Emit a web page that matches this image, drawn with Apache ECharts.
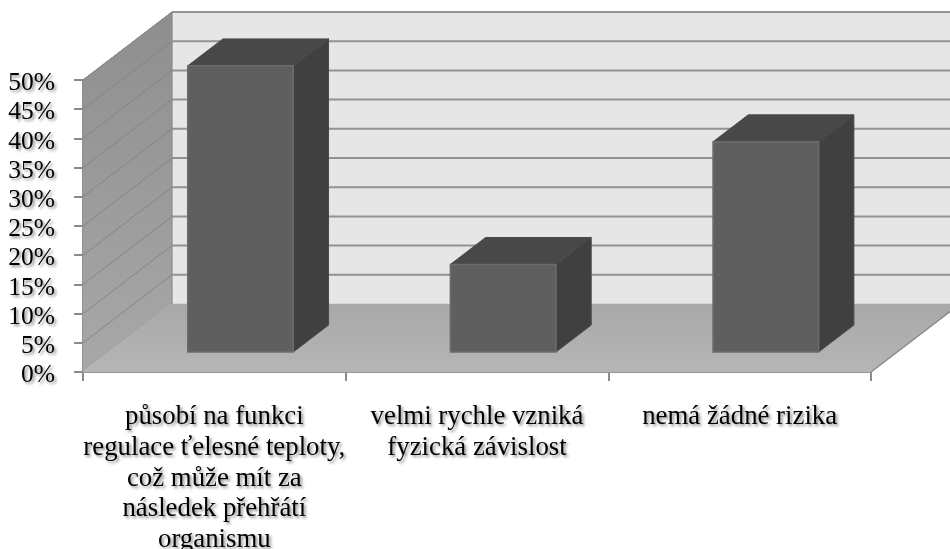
<!DOCTYPE html>
<html>
<head>
<meta charset="utf-8">
<style>html,body{margin:0;padding:0;background:#fff}#c{width:950px;height:549px}</style>
<script src="https://cdn.jsdelivr.net/npm/echarts@6/dist/echarts.min.js"></script>
</head>
<body>
<div id="c"></div>
<script>
const categories = [
  'působí na funkci\nregulace ťelesné teploty,\ncož může mít za\nnásledek přehřátí\norganismu',
  'velmi rychle vzniká\nfyzická závislost',
  'nemá žádné rizika'
];
const shares = [49, 15, 36];
const wallTicks = [5, 10, 15, 20, 25, 30, 35, 40, 45, 50];

const DEPTH_X = 89, DEPTH_Y = 68;          // projection of the floor depth, px
const BAR_FRONT = 0.294, BAR_BACK = 0.69;  // bar position within the depth
const BAR_WIDTH = 0.402;                   // share of a category band
const FONT = '"Liberation Serif", "Times New Roman", serif';
const textShadow = {textShadowColor: 'rgba(0,0,0,0.45)', textShadowBlur: 3, textShadowOffsetX: 2, textShadowOffsetY: 2};

const chart = echarts.init(document.getElementById('c'));
const shift = (p, d) => [p[0] + DEPTH_X * d, p[1] - DEPTH_Y * d];
const grad = (a, b) => new echarts.graphic.LinearGradient(0, 0, 0, 1, [{offset: 0, color: a}, {offset: 1, color: b}]);
const poly = (points, fill, stroke, lw) => ({
  type: 'polygon', shape: {points}, style: {fill, stroke: stroke || fill, lineWidth: lw || 0.5}
});

function renderWalls(params, api) {
  const n = categories.length, band = api.size([1, 0])[0];
  const x0 = api.coord([0, 0])[0] - band / 2, x1 = api.coord([n - 1, 0])[0] + band / 2;
  const y0 = api.coord([0, 0])[1], yT = api.coord([0, 50])[1];
  return {type: 'group', children: [
    poly([shift([x0, y0], 1), shift([x1, y0], 1), shift([x1, yT], 1), shift([x0, yT], 1)], '#e6e6e6'),
    poly([[x0, y0], shift([x0, y0], 1), shift([x0, yT], 1), [x0, yT]], grad('#8e8e8e', '#a8a8a8')),
    poly([[x0, y0], [x1, y0], shift([x1, y0], 1), shift([x0, y0], 1)], grad('#a8a8a8', '#b6b6b6')),
    {type: 'polyline', shape: {points: [[x1, y0], shift([x1, y0], 1)]}, style: {stroke: '#8a8a8a', lineWidth: 1.5, fill: null}},
    {type: 'polyline', shape: {points: [[x0, yT], shift([x0, yT], 1)]}, style: {stroke: '#8a8a8a', lineWidth: 1, fill: null}},
    {type: 'polyline', shape: {points: [shift([x0, y0], 1), shift([x0, yT], 1)]}, style: {stroke: '#8a8a8a', lineWidth: 1, fill: null}}
  ]};
}

function renderGrid(params, api) {
  const n = categories.length, band = api.size([1, 0])[0];
  const x0 = api.coord([0, 0])[0] - band / 2, x1 = api.coord([n - 1, 0])[0] + band / 2;
  const y = api.coord([0, api.value(0)])[1];
  return {type: 'group', children: [
    {type: 'polyline', shape: {points: [[x0, y], shift([x0, y], 1)]}, style: {stroke: '#858585', lineWidth: 1, fill: null}},
    {type: 'polyline', shape: {points: [shift([x0, y], 1), shift([x1, y], 1)]}, style: {stroke: '#929292', lineWidth: 2, fill: null}}
  ]};
}

function renderBar(params, api) {
  const i = api.value(0), v = api.value(1);
  const band = api.size([1, 0])[0], hw = band * BAR_WIDTH / 2;
  const cx = api.coord([i, 0])[0], y0 = api.coord([i, 0])[1], y1 = api.coord([i, v])[1];
  const a = shift([cx - hw, y0], BAR_FRONT), b = shift([cx + hw, y0], BAR_FRONT);
  const c = shift([cx + hw, y1], BAR_FRONT), d = shift([cx - hw, y1], BAR_FRONT);
  const b2 = shift([cx + hw, y0], BAR_BACK), c2 = shift([cx + hw, y1], BAR_BACK), d2 = shift([cx - hw, y1], BAR_BACK);
  return {type: 'group', children: [
    poly([b, b2, c2, c], '#404040', '#4a4a4a', 1),
    poly([d, c, c2, d2], '#484848', '#4a4a4a', 1),
    poly([a, b, c, d], '#5f5f5f', '#6c6c6c', 1.5)
  ]};
}

chart.setOption({
  animation: false,
  grid: {left: 83, right: 79, top: 80, height: 292, outerBoundsMode: 'none'},
  xAxis: {
    type: 'category', data: categories,
    axisLine: {lineStyle: {color: '#8a8a8a', width: 2}},
    axisTick: {show: true, length: 9, alignWithLabel: false, lineStyle: {color: '#8a8a8a', width: 2}},
    axisLabel: Object.assign({interval: 0, margin: 30, fontFamily: FONT, fontSize: 26.8, color: '#000', lineHeight: 30.7}, textShadow)
  },
  yAxis: {
    type: 'value', min: 0, max: 50, interval: 5,
    splitLine: {show: false},
    axisLine: {show: true, lineStyle: {color: '#8a8a8a', width: 2}},
    axisTick: {show: true, length: 9, lineStyle: {color: '#8a8a8a', width: 2}},
    axisLabel: Object.assign({formatter: '{value}%', margin: 28, verticalAlign: 'top', lineHeight: 7, fontFamily: FONT, fontSize: 25.5, color: '#000'}, textShadow)
  },
  series: [
    {type: 'custom', coordinateSystem: 'cartesian2d', silent: true, clip: false, z: 1, renderItem: renderWalls, data: [[0, 0]], encode: {x: 0, y: 1}},
    {type: 'custom', coordinateSystem: 'cartesian2d', silent: true, clip: false, z: 2, renderItem: renderGrid, data: wallTicks.map(t => [t]), encode: {y: 0}},
    {type: 'custom', coordinateSystem: 'cartesian2d', silent: true, clip: false, z: 3, renderItem: renderBar, data: shares.map((v, i) => [i, v]), encode: {x: 0, y: 1}}
  ]
});
</script>
</body>
</html>
